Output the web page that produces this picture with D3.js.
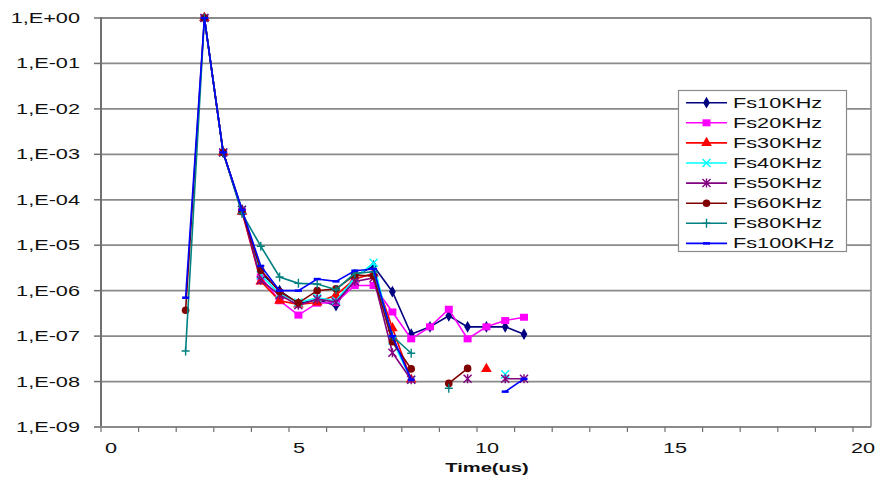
<!DOCTYPE html>
<html>
<head>
<meta charset="utf-8">
<script src="https://cdn.jsdelivr.net/npm/d3@7"></script>
<style>
  html, body { margin: 0; padding: 0; background: #fff; }
  svg { display: block; font-family: "Liberation Sans", Arial, sans-serif; }
</style>
</head>
<body>
<svg id="chart" width="877" height="477"></svg>
<script>
// sample times (us)
const time = [2.25, 2.75, 3.25, 3.75, 4.25, 4.75, 5.25, 5.75, 6.25, 6.75, 7.25, 7.75, 8.25, 8.75, 9.25, 9.75, 10.25, 10.75, 11.25]

const fs10 = [null, 1, 1.1e-3, 6e-5, 2.5e-6, 1.0e-6, 5.2e-7, 6.3e-7, 4.7e-7, 2.1e-6, 3.5e-6, 9.5e-7, 1.1e-7, 1.6e-7, 2.8e-7, 1.6e-7, 1.6e-7, 1.6e-7, 1.1e-7]
const fs20 = [null, 1, 1.1e-3, 5.5e-5, 2.0e-6, 6e-7, 2.9e-7, 5.3e-7, 5.5e-7, 1.3e-6, 1.3e-6, 3.4e-7, 8.7e-8, 1.6e-7, 3.9e-7, 8.7e-8, 1.6e-7, 2.2e-7, 2.6e-7]
const fs30 = [null, 1, 1.1e-3, 5.5e-5, 1.6e-6, 6e-7, 5e-7, 5.5e-7, 8e-7, 1.8e-6, 2.4e-6, 1.5e-7, 1.1e-8, null, null, null, 1.9e-8, null, null]
const fs40 = [null, 1, 1.1e-3, 6e-5, 2.2e-6, 8.5e-7, 5.5e-7, 7e-7, 6e-7, 1.9e-6, 4.1e-6, 8e-8, 1.1e-8, null, null, null, null, 1.45e-8, null]
const fs50 = [null, 1, 1.1e-3, 6e-5, 1.7e-6, 8e-7, 4.8e-7, 6.5e-7, 5.6e-7, 1.6e-6, 1.9e-6, 4.3e-8, 1.1e-8, null, null, 1.15e-8, null, 1.15e-8, 1.15e-8]
const fs60 = [3.7e-7, 1, 1.1e-3, 5.5e-5, 2.8e-6, 9.5e-7, 5.4e-7, 1.0e-6, 1.1e-6, 2.2e-6, 2.1e-6, 7.5e-8, 1.9e-8, null, 9.1e-9, 1.95e-8, null, null, null]
const fs80 = [4.7e-8, 1, 1.1e-3, 5e-5, 9.5e-6, 2.0e-6, 1.45e-6, 1.4e-6, 1.05e-6, 2.4e-6, 2.6e-6, 1.0e-7, 4.2e-8, null, 7.1e-9, null, null, null, null]
const fs100 = [7e-7, 1, 1.1e-3, 6e-5, 3.5e-6, 1.0e-6, 1.0e-6, 1.8e-6, 1.6e-6, 2.75e-6, 3.0e-6, 1.0e-7, 1.1e-8, null, null, null, null, 6e-9, 1.15e-8]

const seriesNames = ['Fs10KHz', 'Fs20KHz', 'Fs30KHz', 'Fs40KHz', 'Fs50KHz', 'Fs60KHz', 'Fs80KHz', 'Fs100KHz']
const seriesValues = [fs10, fs20, fs30, fs40, fs50, fs60, fs80, fs100]

const xTicks = [0, 5, 10, 15, 20]
const yExponents = [0, -1, -2, -3, -4, -5, -6, -7, -8, -9]

// look of each series (Excel 2003 defaults)
const colors = ['#000080', '#ff00ff', '#ff0000', '#00ffff', '#800080', '#800000', '#008080', '#0000ff']
const markers = ['diamond', 'square', 'triangle', 'cross', 'star', 'circle', 'plus', 'dash']

const plotLeft = 101
const plotRight = 871
const plotTop = 18
const plotBottom = 427
const stretch = 1.55 // the picture is stretched sideways

const svg = d3.select('#chart')

const x = d3.scaleLinear().domain([0, 20]).range([plotLeft, 853])
const y = d3.scaleLog().domain([1e-9, 1]).range([plotBottom, plotTop])

function expLabel (e) {
  return '1,E' + (e >= 0 ? '+' : '-') + String(Math.abs(e)).padStart(2, '0')
}

function addText (g, tx, ty, str, anchor, size, weight) {
  g.append('g')
    .attr('transform', 'translate(' + tx + ',' + ty + ') scale(' + stretch + ',1)')
    .append('text')
    .attr('text-anchor', anchor)
    .attr('font-size', size)
    .attr('font-weight', weight || 'normal')
    .attr('fill', '#111')
    .text(str)
}

// gridlines
svg.append('g').selectAll('line').data(yExponents.slice(0, -1))
  .enter().append('line')
  .attr('x1', plotLeft).attr('x2', plotRight)
  .attr('y1', e => y(Math.pow(10, e))).attr('y2', e => y(Math.pow(10, e)))
  .attr('stroke', '#8a8a8a').attr('stroke-width', 1.8)

// plot frame on the right
svg.append('line')
  .attr('x1', plotRight).attr('x2', plotRight).attr('y1', plotTop).attr('y2', plotBottom)
  .attr('stroke', '#8a8a8a').attr('stroke-width', 1.5)

// y axis
const yAxis = svg.append('g')
yAxis.append('line')
  .attr('x1', plotLeft).attr('x2', plotLeft).attr('y1', plotTop - 1).attr('y2', plotBottom + 1)
  .attr('stroke', '#707070').attr('stroke-width', 2)
yAxis.selectAll('.tick').data(yExponents)
  .enter().append('line')
  .attr('x1', plotLeft - 7).attr('x2', plotLeft)
  .attr('y1', e => y(Math.pow(10, e))).attr('y2', e => y(Math.pow(10, e)))
  .attr('stroke', '#707070').attr('stroke-width', 1.5)
yExponents.forEach(e => addText(yAxis, 80, y(Math.pow(10, e)) + 5, expLabel(e), 'end', 14))

// x axis
const xAxis = svg.append('g')
xAxis.append('line')
  .attr('x1', plotLeft - 7).attr('x2', plotRight).attr('y1', plotBottom).attr('y2', plotBottom)
  .attr('stroke', '#8a8a8a').attr('stroke-width', 2)
xAxis.selectAll('.tick').data(d3.range(0, 21))
  .enter().append('line')
  .attr('x1', d => x(d)).attr('x2', d => x(d))
  .attr('y1', plotBottom).attr('y2', plotBottom + 5)
  .attr('stroke', '#707070').attr('stroke-width', 1.2)
xTicks.forEach(t => addText(xAxis, x(t) + 10, 453, String(t), 'middle', 14))
addText(svg, (plotLeft + plotRight) / 2 + 1, 472, 'Time(us)', 'middle', 13, 'bold')

// markers
function drawMarker (g, type, color) {
  if (type === 'diamond') {
    g.append('path').attr('d', d3.symbol(d3.symbolDiamond, 40)()).attr('fill', color)
  } else if (type === 'square') {
    g.append('rect').attr('x', -4).attr('y', -3.5).attr('width', 8).attr('height', 7).attr('fill', color)
  } else if (type === 'triangle') {
    g.append('path').attr('d', d3.symbol(d3.symbolTriangle, 50)()).attr('fill', color)
  } else if (type === 'circle') {
    g.append('circle').attr('r', 3.8).attr('fill', color)
  } else if (type === 'cross') {
    g.append('path').attr('d', 'M-4,-4L4,4M-4,4L4,-4').attr('stroke', color).attr('stroke-width', 1.5)
  } else if (type === 'star') {
    g.append('path').attr('d', 'M-4,-4L4,4M-4,4L4,-4M0,-4.5L0,4.5').attr('stroke', color).attr('stroke-width', 1.4)
  } else if (type === 'plus') {
    g.append('path').attr('d', 'M-4,0L4,0M0,-4.5L0,4.5').attr('stroke', color).attr('stroke-width', 1.4)
  } else if (type === 'dash') {
    g.append('path').attr('d', 'M-3.5,0L3.5,0').attr('stroke', color).attr('stroke-width', 2.5)
  }
}

const line = d3.line()
  .defined(d => d.v != null)
  .x(d => x(d.t))
  .y(d => y(d.v))

const plot = svg.append('g')
seriesValues.forEach((vals, i) => {
  const pts = vals.map((v, k) => ({ t: time[k], v: v }))
  const sg = plot.append('g')
  sg.append('path')
    .attr('d', line(pts))
    .attr('fill', 'none')
    .attr('stroke', colors[i])
    .attr('stroke-width', 1.6)
  pts.filter(d => d.v != null).forEach(d => {
    drawMarker(sg.append('g').attr('transform', 'translate(' + x(d.t) + ',' + y(d.v) + ')'), markers[i], colors[i])
  })
})

// legend
const legend = svg.append('g')
legend.append('rect')
  .attr('x', 678.5).attr('y', 90.5).attr('width', 168).attr('height', 161)
  .attr('fill', '#fff').attr('stroke', '#8a8a8a').attr('stroke-width', 1.2)
seriesNames.forEach((name, i) => {
  const ly = 102.7 + i * 20.1
  legend.append('line')
    .attr('x1', 686).attr('x2', 727).attr('y1', ly).attr('y2', ly)
    .attr('stroke', colors[i]).attr('stroke-width', 1.6)
  drawMarker(legend.append('g').attr('transform', 'translate(706.5,' + ly + ')'), markers[i], colors[i])
  addText(legend, 733, ly + 5, name, 'start', 14)
})
</script>
</body>
</html>
